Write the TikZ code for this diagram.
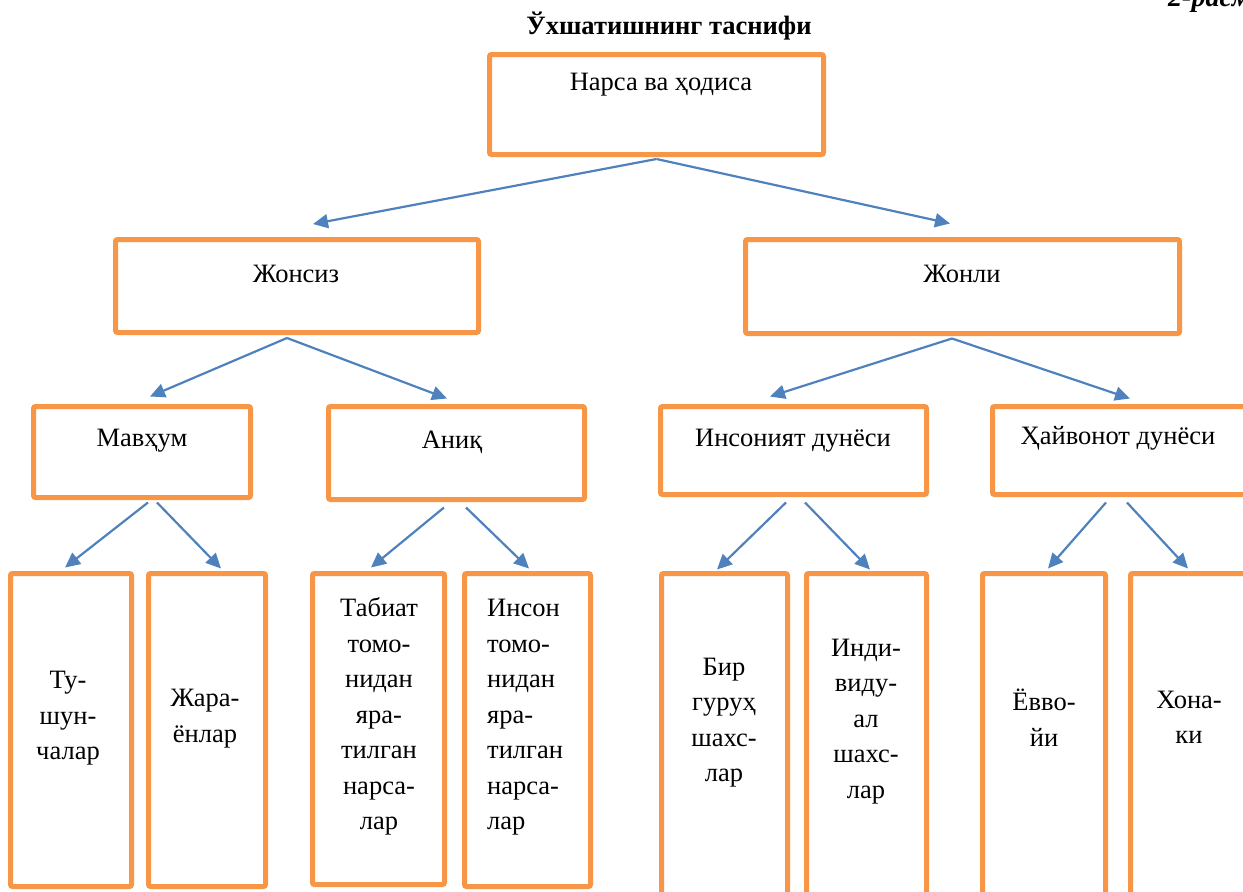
\documentclass[tikz,border=0pt]{standalone}
\usepackage{fontspec}
\setmainfont{Liberation Serif}
\usetikzlibrary{arrows.meta}
\definecolor{boxorange}{HTML}{F79646}
\definecolor{arrblue}{HTML}{4F81BD}
\tikzset{
  obox/.style={draw=boxorange, line width=5pt, rounded corners=2pt, rectangle, inner sep=0pt, fill=white},
  arr/.style={draw=arrblue, line width=2.2pt, -{Triangle[length=15pt,width=14pt]}},
  lbl/.style={inner sep=0pt, font=\fontsize{26.5}{35.5}\selectfont},
  mlbl/.style={lbl, align=center},
}
\begin{document}
\begin{tikzpicture}[x=1pt,y=-1pt]
\useasboundingbox (0,0) rectangle (1243,892);
% title and figure number
\node[inner sep=0pt, anchor=base, font=\fontsize{26.5}{30}\selectfont\bfseries] (title) at (669,34) {Ўхшатишнинг таснифи};
\node[inner sep=0pt, anchor=base west, font=\fontsize{28}{30}\selectfont\bfseries\itshape] (fig) at (1168,6) {2-расм};
% boxes level 0-2
\node[obox, minimum width=334pt, minimum height=100pt] (top) at (656.5,104.5) {};
\node[obox, minimum width=363pt, minimum height=93pt] (zs) at (297,286) {};
\node[obox, minimum width=434pt, minimum height=94pt] (zl) at (962.5,286.5) {};
\node[obox, minimum width=217pt, minimum height=91pt] (mav) at (142,452) {};
\node[obox, minimum width=256pt, minimum height=93pt] (an) at (456.5,453) {};
\node[obox, minimum width=266pt, minimum height=88pt] (ins) at (793.5,450.5) {};
\node[obox, minimum width=267pt, minimum height=88pt] (hay) at (1126,450.5) {};
% bottom boxes
\node[obox, minimum width=121pt, minimum height=313pt] (tu) at (71,730) {};
\node[obox, minimum width=117pt, minimum height=313pt] (zh) at (207,730) {};
\node[obox, minimum width=132pt, minimum height=311pt] (tab) at (378.5,729) {};
\node[obox, minimum width=126pt, minimum height=313pt] (inson) at (527.5,730) {};
\node[obox, minimum width=126pt, minimum height=327pt] (bir) at (724.5,737) {};
\node[obox, minimum width=120pt, minimum height=327pt] (indi) at (866.5,737) {};
\node[obox, minimum width=123pt, minimum height=327pt] (yov) at (1044,737) {};
\node[obox, minimum width=129pt, minimum height=327pt] (xon) at (1195,737) {};
% labels
\node[lbl, anchor=base] (ttop) at (661,90) {Нарса ва ҳодиса};
\node[lbl, anchor=base] (tzs) at (296,282) {Жонсиз};
\node[lbl, anchor=base] (tzl) at (962,282) {Жонли};
\node[lbl, anchor=base] (tmav) at (142,446) {Мавҳум};
\node[lbl, anchor=base] (tan) at (452,448) {Аниқ};
\node[lbl, anchor=base] (tins) at (793,446) {Инсоният дунёси};
\node[lbl, anchor=base] (thay) at (1118,444) {Ҳайвонот дунёси};
\node[mlbl] (ttu) at (68,718.5) {Ту-\\шун-\\чалар};
\node[mlbl] (tzh) at (205,718.5) {Жара-\\ёнлар};
\node[mlbl] (ttab) at (379,716.5) {Табиат\\томо-\\нидан\\яра-\\тилган\\нарса-\\лар};
\node[lbl, align=left, anchor=west] (tinson) at (487,717.5) {Инсон\\томо-\\нидан\\яра-\\тилган\\нарса-\\лар};
\node[mlbl] (tbir) at (724,722.5) {Бир\\гуруҳ\\шахс-\\лар};
\node[mlbl] (tindi) at (866,721.5) {Инди-\\виду-\\ал\\шахс-\\лар};
\node[mlbl] (tyov) at (1044,717.5) {Ёвво-\\йи};
\node[mlbl] (txon) at (1189,717.5) {Хона-\\ки};
% arrows
\draw[arr] ([yshift=-2pt]top.south) -- ([xshift=16pt,yshift=13pt]zs.north);
\draw[arr] ([yshift=-2pt]top.south) -- ([xshift=-12.5pt,yshift=13.5pt]zl.north);
\draw[arr] ([xshift=-10pt,yshift=-3pt]zs.south) -- ([xshift=8pt,yshift=7.5pt]mav.north);
\draw[arr] ([xshift=-10pt,yshift=-3pt]zs.south) -- ([xshift=-9.5pt,yshift=5.5pt]an.north);
\draw[arr] ([xshift=-10.5pt,yshift=-2.5pt]zl.south) -- ([xshift=-23.5pt,yshift=7.5pt]ins.north);
\draw[arr] ([xshift=-10.5pt,yshift=-2.5pt]zl.south) -- ([xshift=4pt,yshift=5.5pt]hay.north);
\draw[arr] ([xshift=6pt,yshift=-2.5pt]mav.south) -- ([xshift=-6pt,yshift=3.5pt]tu.north);
\draw[arr] ([xshift=15pt,yshift=-2.5pt]mav.south) -- ([xshift=14pt,yshift=2.5pt]zh.north);
\draw[arr] ([xshift=-12.5pt,yshift=-5.5pt]an.south) -- ([xshift=-7.5pt,yshift=3.5pt]tab.north);
\draw[arr] ([xshift=9.5pt,yshift=-5.5pt]an.south) -- ([xshift=1.5pt,yshift=2.5pt]inson.north);
\draw[arr] ([xshift=-7.5pt,yshift=-5.5pt]ins.south) -- ([xshift=-7.5pt,yshift=1.5pt]bir.north);
\draw[arr] ([xshift=11.5pt,yshift=-5.5pt]ins.south) -- ([xshift=3.5pt,yshift=1.5pt]indi.north);
\draw[arr] ([xshift=-20pt,yshift=-5.5pt]hay.south) -- ([xshift=4pt,yshift=2.5pt]yov.north);
\draw[arr] ([xshift=1pt,yshift=-5.5pt]hay.south) -- ([xshift=-7pt,yshift=2.5pt]xon.north);
\end{tikzpicture}
\end{document}
